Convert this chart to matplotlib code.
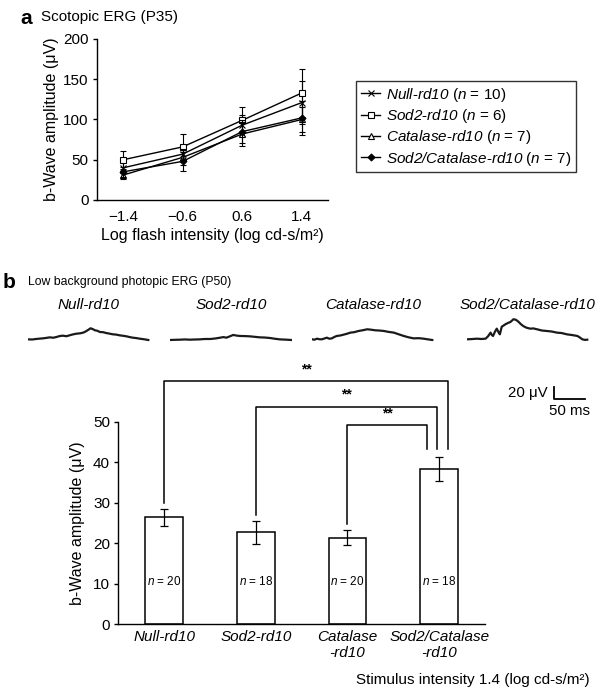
import numpy as np
import matplotlib.pyplot as plt

plt.rcParams['font.family'] = ['Liberation Sans', 'DejaVu Sans']
plt.rcParams['mathtext.fontset'] = 'custom'
plt.rcParams['mathtext.rm'] = 'Liberation Sans:italic'
plt.rcParams['mathtext.it'] = 'Liberation Sans:italic'
plt.rcParams['axes.linewidth'] = 1.0

# ---- donnees panneau a (ERG scotopique, P35)
intensites = ['\u22121.4', '\u22120.6', '0.6', '1.4']
null_moy = [40, 57, 93, 121]
null_err = [7, 9, 13, 27]
sod2_moy = [50, 66, 99, 133]
sod2_err = [11, 16, 16, 30]
cat_moy = [31, 53, 82, 100]
cat_err = [5, 10, 15, 15]
sodcat_moy = [35, 48, 85, 102]
sodcat_err = [6, 12, 14, 21]
legende_a = [r'$Null$-$rd10$ ($n$ = 10)',
             r'$Sod2$-$rd10$ ($n$ = 6)',
             r'$Catalase$-$rd10$ ($n$ = 7)',
             r'$Sod2/Catalase$-$rd10$ ($n$ = 7)']

# ---- donnees panneau b (ERG photopique, P50)
groupes = ['Null-rd10', 'Sod2-rd10', 'Catalase\n-rd10', 'Sod2/Catalase\n-rd10']
noms_traces = ['Null-rd10', 'Sod2-rd10', 'Catalase-rd10', 'Sod2/Catalase-rd10']
bwave_moy = [26.4, 22.7, 21.4, 38.3]
bwave_err = [2.1, 2.8, 1.8, 3.0]
effectifs = [20, 18, 20, 18]
# comparaisons significatives (**): (groupe gauche, groupe droit)
comparaisons = [(0, 3), (1, 3), (2, 3)]

# traces ERG (temps en ms, amplitude en uV)
null_t = [0, 7, 13, 19, 24, 30, 35, 41, 46, 51, 56, 62, 67, 72, 78, 84, 89, 93, 97, 101, 105, 108,
          112, 116, 121, 126, 131, 137, 142, 148, 154, 159, 164, 169, 175, 180, 187, 194]
null_v = [1, 0.8, 1.6, 2.2, 2.6, 3.4, 4.2, 3.6, 4.8, 6.2, 6.9, 6.0, 7.4, 8.8, 10, 10.6, 11.7, 13.5, 16, 18.6,
          17.0, 15.4, 14.6, 12.7, 12.4, 11.1, 10.2, 9, 8.6, 7.4, 6.6, 5.8, 4.6, 3.7, 3.0, 2.1, 1.2, 0]
sod2_t = [0, 8, 16, 24, 32, 40, 48, 56, 65, 73, 81, 86, 91, 97, 102, 108, 113, 121, 129, 137, 145,
          153, 161, 169, 177, 186, 196]
sod2_v = [0, 0.3, 0.5, 0.9, 0.5, 0.8, 1, 1.6, 1.6, 2.4, 3.7, 4.6, 3.7, 6.0, 8, 6.9, 6.4, 6.2, 5.8, 5.0,
          4.2, 3.9, 3.2, 2.0, 1, 0.6, 0]
cat_t = [0, 4, 8, 12, 16, 20, 24, 28, 32, 36, 40, 46, 51, 56, 62, 68, 75, 82, 89, 95, 102, 109, 116,
         124, 132, 140, 148, 156, 164, 172, 180, 187, 194]
cat_v = [1.1, 0.5, 2.1, 1.2, 1.1, 2.4, 3.7, 2.0, 2.6, 4.8, 6.4, 7.2, 8.5, 9.8, 11.7, 12.4, 14.3, 15.5,
         17, 16.4, 15.4, 15.0, 14.3, 12.8, 11.7, 9.0, 6.4, 4.2, 2.6, 2.9, 2.1, 1.0, 0]
sodcat_t = [0, 8, 16, 23, 30, 34, 38, 40, 42, 45, 48, 51, 53, 56, 59, 62, 66, 70, 75, 79, 83, 87,
            91, 96, 102, 107, 113, 121, 129, 137, 145, 153, 161, 170, 178, 182, 186, 190, 194]
sodcat_v = [1.1, 1.5, 2.1, 1.6, 2.1, 6.0, 11.7, 8.0, 6.4, 13.0, 18, 12.0, 9, 21, 23, 25, 27.0, 28.6,
            33, 32.0, 29, 25.0, 22, 19.5, 18, 18.4, 17, 15.0, 14.3, 13.4, 11.7, 11.0, 9, 7.8, 6.4, 4.0,
            1.1, 0.2, 0.5]
barre_ms = 50
barre_uv = 20

W, H = 600, 693


def boite(x0, y0, x1, y1):
    # pixels (origine en haut a gauche) -> coordonnees figure
    return [x0 / W, 1 - y1 / H, (x1 - x0) / W, (y1 - y0) / H]


fig = plt.figure(figsize=(6, 6.93), dpi=100)

# ================= panneau a
ax1 = fig.add_axes(boite(97, 39, 328, 200))
xs = np.arange(len(intensites))
series = [(null_moy, null_err, 'x', 'k'), (sod2_moy, sod2_err, 's', 'white'),
          (cat_moy, cat_err, '^', 'white'), (sodcat_moy, sodcat_err, 'D', 'k')]
for (moy, err, mk, fc), lab in zip(series, legende_a):
    ax1.errorbar(xs, moy, yerr=err, fmt='none', ecolor='k', elinewidth=0.8, capsize=2.5, capthick=0.8)
    ax1.plot(xs, moy, color='k', lw=1.0, marker=mk, ms=4 if mk != 'D' else 3.5,
             mfc=fc, mec='k', mew=0.8, label=lab)
ax1.set_xlim(-0.44, 3.44)
ax1.set_ylim(0, 200)
ax1.set_yticks([0, 50, 100, 150, 200])
ax1.set_xticks(xs)
ax1.set_xticklabels(intensites)
ax1.tick_params(axis='x', length=0, pad=7, labelsize=11)
ax1.tick_params(axis='y', length=3, width=1, labelsize=11, pad=3)
for s in ['top', 'right']:
    ax1.spines[s].set_visible(False)
ax1.set_ylabel('b-Wave amplitude (\u03bcV)', fontsize=11.5, labelpad=3)
ax1.set_xlabel('Log flash intensity (log cd-s/m\u00b2)', fontsize=11.5, labelpad=3)

leg = fig.legend(loc='upper left', bbox_to_anchor=(356 / W, 1 - 81 / H), fontsize=11,
                 frameon=True, fancybox=False, edgecolor='k', handlelength=1.3,
                 handletextpad=0.35, borderpad=0.3, labelspacing=0.22, borderaxespad=0)
leg.get_frame().set_linewidth(1.0)

fig.text(20 / W, 1 - 18 / H, 'a', fontsize=15, fontweight='bold', va='center')
fig.text(41 / W, 1 - 17 / H, 'Scotopic ERG (P35)', fontsize=11, va='center')

# ================= panneau b : traces
fig.text(3 / W, 1 - 282 / H, 'b', fontsize=15, fontweight='bold', va='center')
fig.text(28 / W, 1 - 282 / H, 'Low background photopic ERG (P50)', fontsize=8.8, va='center')

px_ms, px_uv = 0.62, 0.63
traces = [(null_t, null_v), (sod2_t, sod2_v), (cat_t, cat_v), (sodcat_t, sodcat_v)]
gauches = [28, 170, 312, 467]
base = 340
for (t, v), g, nom in zip(traces, gauches, noms_traces):
    axt = fig.add_axes(boite(g, base - 40 * px_uv, g + 196 * px_ms, base + 5 * px_uv))
    axt.plot(t, v, color='#1a1a1a', lw=1.6)
    axt.set_xlim(0, 196)
    axt.set_ylim(-5, 40)
    axt.axis('off')
    fig.text((g + 98 * px_ms) / W, 1 - 305 / H, nom, fontsize=11, style='italic',
             ha='center', va='center')

# barre d'echelle
axs = fig.add_axes(boite(554, 399.3 - barre_uv * px_uv, 554 + barre_ms * px_ms, 399.3))
axs.plot([0, 0, barre_ms], [barre_uv, 0, 0], color='k', lw=1.3, clip_on=False)
axs.set_xlim(0, barre_ms)
axs.set_ylim(0, barre_uv)
axs.axis('off')
fig.text(548 / W, 1 - 393 / H, '20 \u03bcV', fontsize=10.8, ha='right', va='center')
fig.text(590 / W, 1 - 411 / H, '50 ms', fontsize=10.8, ha='right', va='center')

# ================= panneau b : histogramme
ax2 = fig.add_axes(boite(118.3, 421.8, 485, 624.3))
xb = np.arange(len(groupes))
ax2.bar(xb, bwave_moy, width=0.41, color='white', edgecolor='k', linewidth=1.1)
ax2.errorbar(xb, bwave_moy, yerr=bwave_err, fmt='none', ecolor='k', elinewidth=0.9,
             capsize=3, capthick=0.9)
for x, n in zip(xb, effectifs):
    ax2.text(x, 10.5, r'$n$ = %d' % n, ha='center', va='center', fontsize=8.5)
ax2.set_xlim(-0.5, 3.5)
ax2.set_ylim(0, 50)
ax2.set_yticks([0, 10, 20, 30, 40, 50])
ax2.set_xticks(xb)
ax2.set_xticklabels(groupes, fontstyle='italic', fontsize=11, linespacing=1.15)
ax2.tick_params(axis='x', length=0, pad=4)
ax2.tick_params(axis='y', length=3, width=1, labelsize=11, pad=3)
for s in ['top', 'right']:
    ax2.spines[s].set_visible(False)
ax2.set_ylabel('b-Wave amplitude (\u03bcV)', fontsize=11.5, labelpad=6)

# crochets de significativite
hauteurs = [60.1, 53.7, 49.2]
decalages = [0.10, -0.02, -0.13]
for (g, d), h, dec in zip(comparaisons, hauteurs, decalages):
    y_g = bwave_moy[g] + bwave_err[g] + 1.5
    y_d = bwave_moy[d] + bwave_err[d] + 2
    ax2.plot([g, g, d + dec, d + dec], [y_g, h, h, y_d], color='k', lw=1.1, clip_on=False)
    ax2.text((g + d + dec) / 2, h + 1.2, '**', ha='center', va='bottom', fontsize=10,
             fontweight='bold')

fig.text(590 / W, 1 - 680 / H, 'Stimulus intensity 1.4 (log cd-s/m\u00b2)', fontsize=11,
         ha='right', va='center')

fig.savefig('out.png', dpi=100)
